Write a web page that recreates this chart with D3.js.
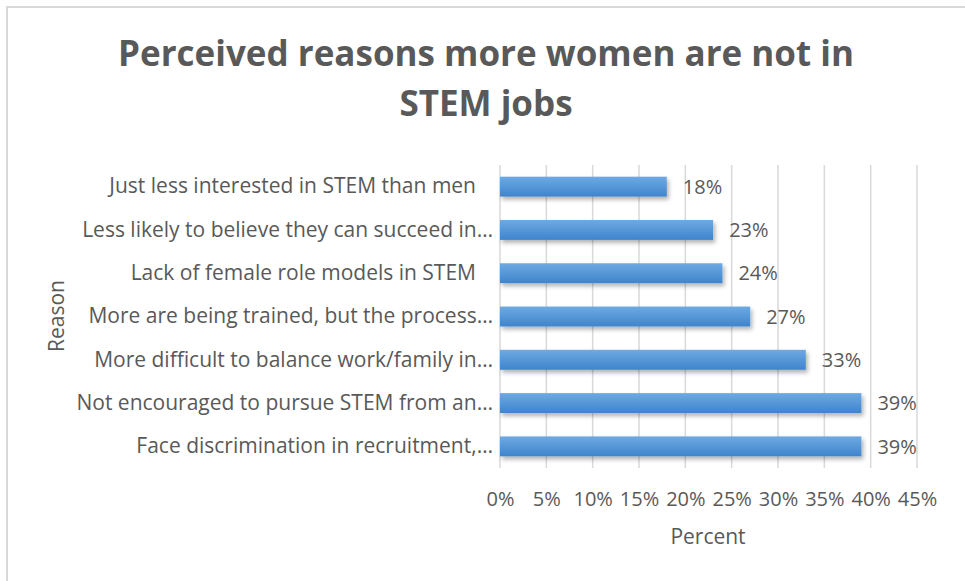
<!DOCTYPE html>
<html>
<head>
<meta charset="utf-8">
<script src="https://cdn.jsdelivr.net/npm/d3@7/dist/d3.min.js"></script>
<style>
	body { margin: 0; background: #fff; }
	svg text { font-family: "Open Sans", sans-serif; fill: #595959; }
</style>
</head>
<body>
<div id="graph"></div>
<script>
(function(){
"use strict";

// chart data, bottom row last
var reasons = [
	"Just less interested in STEM than men",
	"Less likely to believe they can succeed in…",
	"Lack of female role models in STEM",
	"More are being trained, but the process…",
	"More difficult to balance work/family in…",
	"Not encouraged to pursue STEM from an…",
	"Face discrimination in recruitment,…"
];
var percents = [0.18, 0.23, 0.24, 0.27, 0.33, 0.39, 0.39];
var ticks = [0, 0.05, 0.10, 0.15, 0.20, 0.25, 0.30, 0.35, 0.40, 0.45];
var titleLines = ["Perceived reasons more women are not in", "STEM jobs"];

var width = 965;
var height = 581;
var plot = {left: 500, right: 917, top: 165, bottom: 468};
var format = d3.format(".0%");

var svg = d3.select("#graph")
	.append("svg")
		.attr("width", width)
		.attr("height", height);

var defs = svg.append("defs");
var grad = defs.append("linearGradient")
	.attr("id", "barGrad")
	.attr("x1", 0).attr("y1", 0)
	.attr("x2", 0).attr("y2", 1);
grad.append("stop").attr("offset", "0%").attr("stop-color", "#6eaae2");
grad.append("stop").attr("offset", "100%").attr("stop-color", "#3f84cc");

var shadow = defs.append("filter")
	.attr("id", "shadow")
	.attr("x", "-5%").attr("y", "-30%")
	.attr("width", "115%").attr("height", "190%");
shadow.append("feDropShadow")
	.attr("dx", 2).attr("dy", 3)
	.attr("stdDeviation", 2)
	.attr("flood-color", "#000")
	.attr("flood-opacity", 0.3);

// chart frame
svg.append("path")
	.attr("d", "M7," + height + "V7H" + width)
	.attr("fill", "none")
	.attr("stroke", "#d9d9d9")
	.attr("stroke-width", 2);

var x = d3.scaleLinear()
	.domain([0, 0.45])
	.range([plot.left, plot.right]);

var y = d3.scaleBand()
	.domain(reasons)
	.range([plot.top, plot.bottom])
	.paddingInner(0.54)
	.paddingOuter(0.27);

// gridlines
svg.append("g")
	.attr("class", "grid")
	.selectAll("line")
	.data(ticks)
	.enter()
	.append("line")
		.attr("x1", function(d){ return x(d); })
		.attr("x2", function(d){ return x(d); })
		.attr("y1", plot.top)
		.attr("y2", plot.bottom)
		.attr("stroke", "#d9d9d9")
		.attr("stroke-width", 1.5);

// x axis labels
var xAxis = d3.axisBottom(x)
	.tickValues(ticks)
	.tickFormat(format)
	.tickSize(0)
	.tickPadding(0);

svg.append("g")
	.attr("class", "x")
	.attr("transform", "translate(0,506)")
	.call(xAxis)
	.call(function(g){ g.select(".domain").remove(); })
	.selectAll("text")
		.attr("dy", 0)
		.style("font-size", "20px")
		.style("fill", "#595959");

// y axis labels
var yAxis = d3.axisLeft(y)
	.tickSize(0)
	.tickPadding(7);

svg.append("g")
	.attr("class", "y")
	.attr("transform", "translate(" + plot.left + ",0)")
	.call(yAxis)
	.call(function(g){ g.select(".domain").remove(); })
	.selectAll("text")
		// untruncated labels sit a little left of the clipped ones
		.attr("dx", function(d){ return d.slice(-1) === "…" ? 0 : -17; })
		.style("font-size", "21px")
		.style("fill", "#595959");

// bars
svg.selectAll(".bar")
	.data(reasons)
	.enter()
	.append("rect")
		.attr("class", "bar")
		.attr("x", x(0))
		.attr("y", function(d){ return y(d); })
		.attr("width", function(d, i){ return x(percents[i]) - x(0); })
		.attr("height", y.bandwidth())
		.attr("fill", "url(#barGrad)")
		.attr("filter", "url(#shadow)");

// value labels
svg.selectAll(".val")
	.data(reasons)
	.enter()
	.append("text")
		.attr("class", "val")
		.attr("x", function(d, i){ return x(percents[i]) + 16; })
		.attr("y", function(d){ return y(d) + y.bandwidth() / 2; })
		.attr("dy", "0.36em")
		.style("font-size", "20px")
		.text(function(d, i){ return format(percents[i]); });

// titles
svg.append("text")
	.attr("text-anchor", "middle")
	.attr("x", 708)
	.attr("y", 544)
	.style("font-size", "21px")
	.text("Percent");

svg.append("text")
	.attr("text-anchor", "middle")
	.attr("transform", "translate(64,316) rotate(-90)")
	.style("font-size", "21px")
	.text("Reason");

svg.selectAll(".title")
	.data(titleLines)
	.enter()
	.append("text")
		.attr("class", "title")
		.attr("text-anchor", "middle")
		.attr("x", 486)
		.attr("y", function(d, i){ return 66 + i * 50; })
		.style("font-size", "35px")
		.style("font-weight", "bold")
		.text(function(d){ return d; });

})();
</script>
</body>
</html>
